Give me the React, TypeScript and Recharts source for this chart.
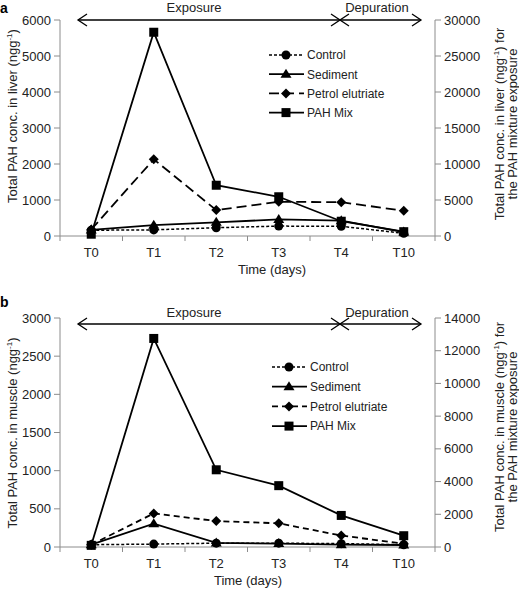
import React from "react"
import { ComposedChart, Line, XAxis, YAxis, Legend } from "recharts"

const times = ["T0", "T1", "T2", "T3", "T4", "T10"]

// a) liver, ngg-1 (PAH Mix is read on the right axis)
const liverControl = [160, 170, 230, 275, 270, 75]
const liverSediment = [170, 300, 380, 460, 425, 110]
const liverPetrol = [180, 2130, 720, 950, 940, 700]
const liverPahMix = [250, 28300, 7050, 5450, 2050, 600]

// b) muscle, ngg-1
const muscleControl = [30, 38, 50, 50, 44, 30]
const muscleSediment = [30, 305, 53, 45, 30, 26]
const musclePetrol = [30, 440, 340, 310, 150, 44]
const musclePahMix = [100, 12750, 4720, 3750, 1930, 690]

const liverLeftTicks = [0, 1000, 2000, 3000, 4000, 5000, 6000]
const liverRightTicks = [0, 5000, 10000, 15000, 20000, 25000, 30000]
const muscleLeftTicks = [0, 500, 1000, 1500, 2000, 2500, 3000]
const muscleRightTicks = [0, 2000, 4000, 6000, 8000, 10000, 12000, 14000]

const FONT = "'Liberation Sans', Arial, Helvetica, sans-serif"
const AXIS = "#8c8c8c"
const TEXT = "#222"
const PLOT_LEFT = 60
const PLOT_RIGHT = 435
const HALF_BAND = (PLOT_RIGHT - PLOT_LEFT) / times.length / 2

type Shape = "circle" | "triangle" | "diamond" | "square"

const seriesOrder = ["control", "sediment", "petrol", "pahMix"]
const seriesInfo: Record<string, { shape: Shape; dash?: string; width: number; axis: string }> = {
  control: { shape: "circle", dash: "3 2", width: 1.5, axis: "left" },
  sediment: { shape: "triangle", width: 1.8, axis: "left" },
  petrol: { shape: "diamond", dash: "9 5", width: 1.8, axis: "left" },
  pahMix: { shape: "square", width: 1.8, axis: "right" },
}
const seriesNames: Record<string, string> = {
  control: "Control",
  sediment: "Sediment",
  petrol: "Petrol elutriate",
  pahMix: "PAH Mix",
}

function Marker({ shape, cx, cy }: { shape: Shape; cx?: number; cy?: number }) {
  if (cx == null || cy == null) return null
  if (shape === "circle") return <circle cx={cx} cy={cy} r={4.5} fill="#000" />
  if (shape === "triangle")
    return <path d={`M${cx},${cy - 5.5}L${cx + 5.5},${cy + 3.5}L${cx - 5.5},${cy + 3.5}Z`} fill="#000" />
  if (shape === "diamond")
    return <path d={`M${cx},${cy - 5}L${cx + 5},${cy}L${cx},${cy + 5}L${cx - 5},${cy}Z`} fill="#000" />
  return <rect x={cx - 4.5} y={cy - 4.5} width={9} height={9} fill="#000" />
}

function Chevron({ x, y, dir }: { x: number; y: number; dir: 1 | -1 }) {
  return (
    <polyline
      points={`${x + dir * 9},${y - 6} ${x},${y} ${x + dir * 9},${y + 6}`}
      fill="none"
      stroke="#000"
      strokeWidth={1.3}
    />
  )
}

interface PanelProps {
  letter: string
  letterY: number
  data: Record<string, number | string>[]
  height: number
  top: number
  xAxisHeight: number
  leftTicks: number[]
  rightTicks: number[]
  leftLabel: string
  rightLabel: string
  leftLabelY: number
  rightLabelY: number
  timeLabelX: number
  arrowY: number
  textY: number
  legendTop: number
  legendLeft: number
  legendGap: number
  petrolDash: string
}

function Panel(p: PanelProps) {
  const dashFor = (key: string) => (key === "petrol" ? p.petrolDash : seriesInfo[key].dash)
  const plotBottom = p.height - p.xAxisHeight

  const renderLegend = (props: any) => {
    const payload = [...(props.payload || [])].sort(
      (a: any, b: any) => seriesOrder.indexOf(a.dataKey) - seriesOrder.indexOf(b.dataKey)
    )
    return (
      <svg width={150} height={90} style={{ overflow: "visible" }}>
        {payload.map((entry: any, i: number) => {
          const key = entry.dataKey as string
          const y = 8 + i * p.legendGap
          return (
            <g key={key}>
              <line x1={2} x2={37} y1={y} y2={y} stroke="#000" strokeWidth={seriesInfo[key].width} strokeDasharray={dashFor(key)} />
              <Marker shape={seriesInfo[key].shape} cx={19} cy={y} />
              <text x={40} y={y + 4.3} fontSize={12} fill={TEXT} fontFamily={FONT}>
                {entry.value}
              </text>
            </g>
          )
        })}
      </svg>
    )
  }

  const xTick = (props: any) => {
    const { x, index } = props
    return (
      <g>
        <line x1={x - HALF_BAND} x2={x - HALF_BAND} y1={plotBottom} y2={plotBottom + 5} stroke={AXIS} />
        {index === times.length - 1 && (
          <line x1={x + HALF_BAND} x2={x + HALF_BAND} y1={plotBottom} y2={plotBottom + 5} stroke={AXIS} />
        )}
        <text x={x} y={plotBottom + 20.5} textAnchor="middle" fontSize={13} fill={TEXT}>
          {props.payload.value}
        </text>
      </g>
    )
  }

  const leftLabel = () => (
    <text x={16.5} y={p.leftLabelY} transform={`rotate(-90, 16.5, ${p.leftLabelY})`} textAnchor="middle" fontSize={13} fill={TEXT}>
      {p.leftLabel} (ngg<tspan dy={-5} fontSize={8}>-1</tspan>
      <tspan dy={5}>)</tspan>
    </text>
  )

  const rightLabel = () => (
    <g>
      <text x={504} y={p.rightLabelY} transform={`rotate(-90, 504, ${p.rightLabelY})`} textAnchor="middle" fontSize={13} fill={TEXT}>
        {p.rightLabel} (ngg<tspan dy={-5} fontSize={8}>-1</tspan>
        <tspan dy={5}>) for</tspan>
      </text>
      <text x={517} y={p.rightLabelY} transform={`rotate(-90, 517, ${p.rightLabelY})`} textAnchor="middle" fontSize={13} fill={TEXT}>
        the PAH mixture exposure
      </text>
    </g>
  )

  return (
    <div style={{ position: "relative", width: 519, height: p.height }}>
      <ComposedChart width={519} height={p.height} data={p.data} margin={{ top: p.top, right: 0, bottom: 0, left: 0 }}>
        <XAxis
          dataKey="time"
          scale="band"
          height={p.xAxisHeight}
          stroke={AXIS}
          tickLine={false}
          tick={xTick}
          interval={0}
          label={() => (
            <text x={p.timeLabelX} y={plotBottom + 37.5} textAnchor="middle" fontSize={13} fill={TEXT}>
              Time (days)
            </text>
          )}
        />
        <YAxis
          yAxisId="left"
          width={PLOT_LEFT}
          domain={[p.leftTicks[0], p.leftTicks[p.leftTicks.length - 1]]}
          ticks={p.leftTicks}
          stroke={AXIS}
          tickSize={6}
          tickMargin={3}
          tick={{ fill: TEXT, fontSize: 13 }}
          label={leftLabel}
        />
        <YAxis
          yAxisId="right"
          orientation="right"
          width={519 - PLOT_RIGHT}
          domain={[p.rightTicks[0], p.rightTicks[p.rightTicks.length - 1]]}
          ticks={p.rightTicks}
          stroke={AXIS}
          tickSize={6}
          tickMargin={3}
          tick={{ fill: TEXT, fontSize: 13, textAnchor: "start" }}
          label={rightLabel}
        />
        <Legend
          layout="vertical"
          align="center"
          verticalAlign="middle"
          content={renderLegend}
          wrapperStyle={{ left: p.legendLeft, top: p.legendTop, width: 150, height: 90 }}
        />
        {seriesOrder.map((key) => (
          <Line
            key={key}
            yAxisId={seriesInfo[key].axis}
            dataKey={key}
            name={seriesNames[key]}
            stroke="#000"
            strokeWidth={seriesInfo[key].width}
            strokeDasharray={dashFor(key)}
            isAnimationActive={false}
            dot={(d: any) => <Marker key={`${key}-${d.index}`} shape={seriesInfo[key].shape} cx={d.cx} cy={d.cy} />}
            activeDot={false}
          />
        ))}
      </ComposedChart>
      <svg width={519} height={p.height} style={{ position: "absolute", left: 0, top: 0, pointerEvents: "none", fontFamily: FONT }}>
        <text x={0} y={p.letterY} fontSize={14} fontWeight="bold" fill="#000">
          {p.letter}
        </text>
        <text x={194} y={p.textY} textAnchor="middle" fontSize={13} fill={TEXT}>
          Exposure
        </text>
        <text x={377} y={p.textY} textAnchor="middle" fontSize={13} fill={TEXT}>
          Depuration
        </text>
        <line x1={78} x2={421} y1={p.arrowY} y2={p.arrowY} stroke="#000" strokeWidth={1.3} />
        <Chevron x={78} y={p.arrowY} dir={1} />
        <Chevron x={340} y={p.arrowY} dir={-1} />
        <Chevron x={340} y={p.arrowY} dir={1} />
        <Chevron x={421} y={p.arrowY} dir={-1} />
      </svg>
    </div>
  )
}

const liverData = times.map((t, i) => ({
  time: t,
  control: liverControl[i],
  sediment: liverSediment[i],
  petrol: liverPetrol[i],
  pahMix: liverPahMix[i],
}))

const muscleData = times.map((t, i) => ({
  time: t,
  control: muscleControl[i],
  sediment: muscleSediment[i],
  petrol: musclePetrol[i],
  pahMix: musclePahMix[i],
}))

export default function App() {
  return (
    <div style={{ position: "absolute", left: 0, top: 0, width: 519, height: 590, background: "#fff", fontFamily: FONT }}>
      <Panel
        letter="a"
        letterY={13}
        data={liverData}
        height={290}
        top={20}
        xAxisHeight={54}
        leftTicks={liverLeftTicks}
        rightTicks={liverRightTicks}
        leftLabel="Total PAH conc. in liver"
        rightLabel="Total PAH conc. in liver"
        leftLabelY={116}
        rightLabelY={124}
        timeLabelX={272}
        arrowY={20}
        textY={11.5}
        legendTop={47}
        legendLeft={267}
        legendGap={19.2}
        petrolDash="10 5"
      />
      <Panel
        letter="b"
        letterY={17}
        data={muscleData}
        height={300}
        top={28}
        xAxisHeight={43}
        leftTicks={muscleLeftTicks}
        rightTicks={muscleRightTicks}
        leftLabel="Total PAH conc. in muscle"
        rightLabel="Total PAH conc. in muscle"
        leftLabelY={143}
        rightLabelY={137}
        timeLabelX={248}
        arrowY={34}
        textY={26.5}
        legendTop={69}
        legendLeft={270}
        legendGap={19.7}
        petrolDash="6 4"
      />
    </div>
  )
}
